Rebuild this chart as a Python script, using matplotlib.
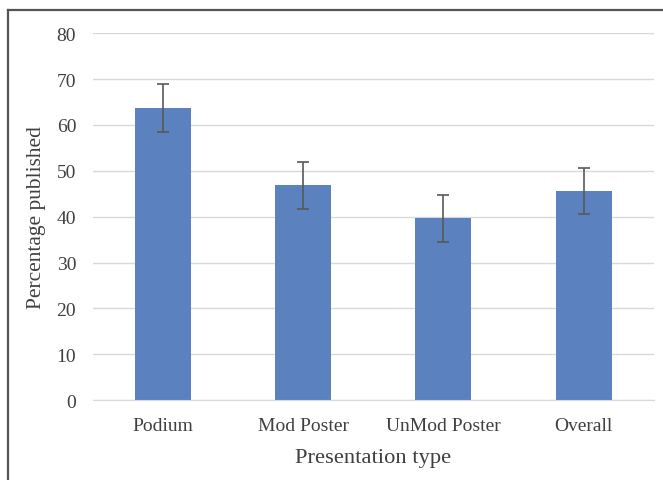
import matplotlib
matplotlib.use("Agg")
import matplotlib.pyplot as plt
from matplotlib.lines import Line2D

categories = ["Podium", "Mod Poster", "UnMod Poster", "Overall"]
values = [63.7, 46.8, 39.6, 45.5]
errors = [5.2, 5.1, 5.1, 5.0]
yticks = [0, 10, 20, 30, 40, 50, 60, 70, 80]

plt.rcParams["font.family"] = ["Liberation Serif", "DejaVu Serif"]

fig = plt.figure(figsize=(6.63, 4.81), dpi=100)
ax = fig.add_axes([0.140, 0.166, 0.846, 0.763])

x = range(len(categories))
ax.bar(x, values, width=0.4, color="#5B82BE", zorder=2)
ax.errorbar(x, values, yerr=errors, fmt="none", ecolor="#595959",
            elinewidth=1.2, capsize=4, capthick=1.2, zorder=3)

ax.set_xlim(-0.5, len(categories) - 0.5)
ax.set_ylim(0, 80)
ax.set_yticks(yticks)
ax.set_xticks(list(x))
ax.set_xticklabels(categories)
ax.yaxis.grid(True, color="#d9d9d9", linewidth=1, zorder=0)
ax.set_axisbelow(True)
for s in ["top", "right", "left"]:
    ax.spines[s].set_visible(False)
ax.spines["bottom"].set_color("#d9d9d9")
ax.tick_params(axis="both", length=0, labelsize=14, colors="#404040")
ax.tick_params(axis="y", pad=12)
ax.tick_params(axis="x", pad=12)

ax.set_ylabel("Percentage published", fontsize=15.4, color="#404040")
ax.yaxis.set_label_coords(-0.083, 0.5)
ax.set_xlabel("Presentation type", fontsize=16.2, color="#404040", labelpad=10)

# frame lines at top and left of the image
fig.add_artist(Line2D([0.012, 1.0], [0.977, 0.977], transform=fig.transFigure,
                      color="#555555", linewidth=1.6))
fig.add_artist(Line2D([0.012, 0.012], [0.0, 0.977], transform=fig.transFigure,
                      color="#555555", linewidth=1.6))

fig.savefig("out.png", dpi=100)
